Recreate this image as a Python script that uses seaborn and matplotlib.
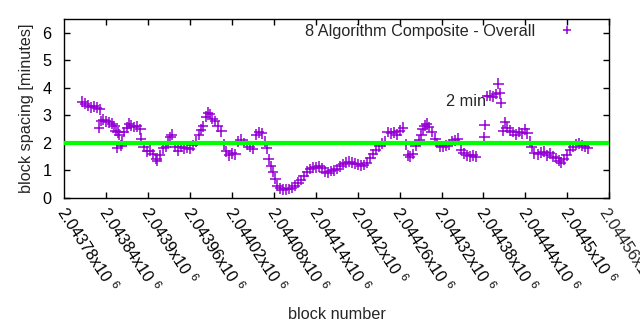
import numpy as np
import pandas as pd
import matplotlib
matplotlib.use("Agg")
import matplotlib.pyplot as plt
import matplotlib.transforms as mtransforms
import seaborn as sns

# ---- data ----
base_block = 2043720
block_offset = [26, 30, 34, 39, 43, 47, 50, 51, 53, 56, 60, 64, 69, 72, 74, 77, 79, 76, 82, 83,
                86, 90, 93, 96, 100, 104, 109, 110, 114, 119, 123, 127, 132, 133, 137, 142, 146, 149,
                152, 154, 159, 163, 167, 172, 176, 180, 184, 189, 193, 196, 199, 203, 206, 209, 212,
                216, 220, 225, 229, 232, 236, 240, 245, 249, 253, 257, 262, 266, 270, 275, 279, 283,
                287, 290, 293, 296, 299, 302, 305, 309, 313, 318, 322, 326, 330, 335, 339, 343, 348,
                352, 356, 360, 365, 369, 373, 378, 382, 386, 390, 395, 399, 403, 408, 412, 416, 420,
                425, 429, 433, 438, 442, 446, 451, 455, 459, 463, 468, 472, 476, 480, 485, 489, 492,
                495, 499, 503, 508, 511, 513, 516, 519, 522, 526, 531, 533, 538, 542, 546, 551, 555,
                559, 563, 568, 572, 576, 581, 585, 589, 601, 602, 605, 609, 613, 618, 621, 623, 625,
                628, 631, 633, 638, 642, 646, 651, 655, 659, 663, 666, 669, 673, 678, 682, 686, 691,
                695, 699, 704, 708, 711, 715, 719, 724, 728, 732, 736, 741, 745, 749]
spacing_min = [3.50, 3.42, 3.35, 3.30, 3.33, 3.28, 2.55, 3.22, 2.80, 2.85, 2.78, 2.75, 2.70, 2.60,
               2.45, 2.38, 2.30, 1.82, 1.90, 2.05, 2.40, 2.55, 2.70, 2.62, 2.58, 2.60, 2.50, 2.15,
               1.85, 1.70, 1.72, 1.60, 1.42, 1.35, 1.55, 1.80, 1.85, 2.05, 2.20, 2.30, 1.85, 1.72,
               1.85, 1.80, 1.82, 1.78, 1.92, 2.05, 2.30, 2.48, 2.60, 2.95, 3.10, 3.05, 2.88, 2.80,
               2.60, 2.42, 1.95, 1.70, 1.55, 1.62, 1.58, 2.05, 2.12, 2.00, 1.95, 1.85, 1.78, 2.30,
               2.38, 2.35, 2.05, 1.80, 1.40, 1.15, 0.95, 0.70, 0.45, 0.35, 0.30, 0.31, 0.33, 0.38,
               0.45, 0.55, 0.65, 0.80, 0.95, 1.05, 1.10, 1.12, 1.15, 1.08, 0.95, 0.92, 0.98, 1.00,
               1.05, 1.15, 1.22, 1.28, 1.32, 1.28, 1.25, 1.22, 1.18, 1.20, 1.28, 1.45, 1.60, 1.75,
               1.88, 1.98, 2.05, 2.40, 2.35, 2.38, 2.30, 2.45, 2.55, 1.95, 1.55, 1.50, 1.60, 1.90,
               2.10, 2.30, 2.50, 2.62, 2.70, 2.58, 2.40, 2.15, 2.00, 1.88, 1.85, 1.90, 1.95, 2.05,
               2.10, 2.15, 1.75, 1.62, 1.55, 1.52, 1.55, 1.50, 2.20, 2.65, 3.70, 3.72, 3.68, 3.78,
               4.15, 3.80, 3.45, 2.45, 2.75, 2.55, 2.45, 2.40, 2.30, 2.40, 2.35, 2.50, 2.35, 2.05,
               1.85, 1.62, 1.58, 1.65, 1.68, 1.55, 1.62, 1.50, 1.45, 1.35, 1.28, 1.40, 1.55, 1.75,
               1.85, 1.95, 1.98, 1.90, 1.85, 1.80]
target_minutes = 2
xtick_values = [2043780, 2043840, 2043900, 2043960, 2044020, 2044080, 2044140,
                2044200, 2044260, 2044320, 2044380, 2044440, 2044500]
xtick_labels = ["2.04378", "2.04384", "2.0439", "2.04396", "2.04402", "2.04408", "2.04414",
                "2.0442", "2.04426", "2.04432", "2.04438", "2.04444", "2.0445"]
extra_label = "2.04456"
x_range = [2043720, 2044500]
y_range = [0, 6.5]
yticks = [0, 1, 2, 3, 4, 5, 6]
series_name = "8 Algorithm Composite - Overall"

df = pd.DataFrame({"block": [base_block + o for o in block_offset],
                   "spacing": spacing_min,
                   "series": series_name})

# ---- style ----
sns.set_style("ticks")
plt.rcParams["font.family"] = ["Liberation Sans", "DejaVu Sans"]
plt.rcParams["mathtext.fontset"] = "custom"
plt.rcParams["mathtext.rm"] = "Liberation Sans"
plt.rcParams["mathtext.it"] = "Liberation Sans"
plt.rcParams["mathtext.bf"] = "Liberation Sans"

FS = 11.7
fig = plt.figure(figsize=(6.4, 3.3), dpi=100)
ax = fig.add_axes([0.1, 0.4, 0.852, 0.5424])

purple = "#9400d3"
sns.scatterplot(data=df, x="block", y="spacing", hue="series", palette=[purple],
                marker="+", s=60, linewidth=1.1, ax=ax, zorder=3)
ax.axhline(target_minutes, color="#00ff00", linewidth=3.0, zorder=4)

ax.set_xlim(*x_range)
ax.set_ylim(*y_range)
ax.set_yticks(yticks)
ax.set_yticklabels([str(v) for v in yticks])

ax.set_xticks(xtick_values)
ax.set_xticklabels([f"{t}x10 $^{{6}}$" for t in xtick_labels])

for sp in ax.spines.values():
    sp.set_visible(True)
    sp.set_color("black")
    sp.set_linewidth(1.0)
ax.tick_params(axis="both", direction="in", length=4, width=1, top=True, right=True,
               labelsize=FS, colors="black")
ax.tick_params(axis="y", pad=9)

# gnuplot-like placement of the rotated tick labels
ROT = -57
off = mtransforms.ScaledTranslation(-0.45, -0.06, fig.dpi_scale_trans)
for lab in ax.get_xticklabels():
    lab.set_rotation(ROT)
    lab.set_rotation_mode("anchor")
    lab.set_ha("left")
    lab.set_va("center")
    lab.set_transform(lab.get_transform() + off)
ax.annotate(f"{extra_label}x10 $^{{6}}$", xy=(xtick_values[-1] + 60, 0), xycoords="data",
            xytext=(-0.45 * 72 - 2, -3.5 - 0.06 * 72), textcoords="offset points", rotation=ROT,
            rotation_mode="anchor", ha="left", va="center", fontsize=FS,
            annotation_clip=False)

ax.set_xlabel("block number", fontsize=FS, labelpad=8)
ax.set_ylabel("block spacing [minutes]", fontsize=FS, labelpad=6)

ax.text(2044267, 3.5, "2 min", fontsize=FS, ha="left", va="center")

leg = ax.legend(loc="upper right", frameon=False, markerfirst=False, fontsize=FS,
                handletextpad=1.0, borderaxespad=0.0, bbox_to_anchor=(0.965, 1.01),
                markerscale=0.75)

fig.savefig("out.png", dpi=100)
